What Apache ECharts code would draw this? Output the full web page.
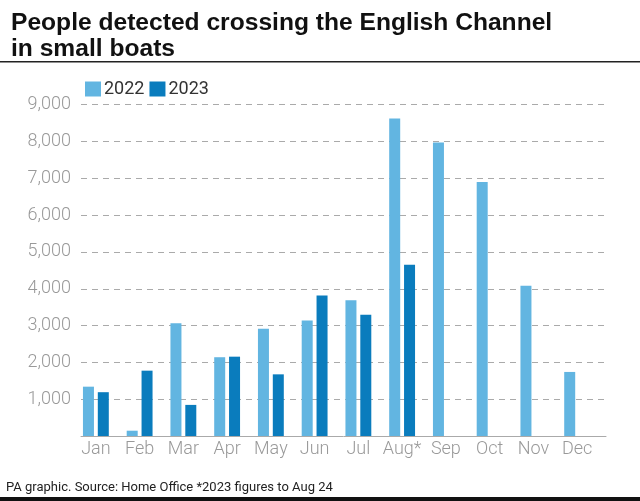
<!DOCTYPE html>
<html><head><meta charset="utf-8">
<script src="https://cdn.jsdelivr.net/npm/echarts@6/dist/echarts.min.js"></script>
<style>html,body{margin:0;padding:0;background:#fff}#c{width:640px;height:501px}</style>
</head><body><div id="c"></div>
<script>
const months = ['Jan','Feb','Mar','Apr','May','Jun','Jul','Aug*','Sep','Oct','Nov','Dec'];
const values2022 = [1340, 144, 3060, 2140, 2915, 3140, 3685, 8625, 7970, 6900, 4080, 1740];
const values2023 = [1190, 1775, 845, 2155, 1675, 3820, 3295, 4650, null, null, null, null];
const yTicks = [0, 1000, 2000, 3000, 4000, 5000, 6000, 7000, 8000, 9000];

const light = '#62b5e1', dark = '#0a7cbd';
const font = 'Roboto';
const chart = echarts.init(document.getElementById('c'), null, {renderer:'canvas'});
const gTop = 104.7, gBottom = 65;
chart.setOption({
  animation:false,
  title:{text:'People detected crossing the English Channel\nin small boats', left:6, top:5,
    textStyle:{fontFamily:'Liberation Sans', fontWeight:'bold', fontSize:24.6, color:'#111', lineHeight:26}},
  legend:{left:80, top:75, itemWidth:16, itemHeight:15, itemGap:5, icon:'rect',
    textStyle:{fontFamily:font, fontSize:18, color:'#333', padding:[0,0,0,-2]}},
  grid:[{left:81, right:34, top:gTop, bottom:gBottom},{left:74, width:525, top:gTop, bottom:gBottom}],
  xAxis:[
    {type:'category', gridIndex:0, data:months, axisLine:{show:true,lineStyle:{color:'#aaa',width:1}}, axisTick:{show:false}, axisLabel:{show:false}},
    {type:'category', gridIndex:1, data:months, axisLine:{show:false}, axisTick:{show:false},
      axisLabel:{fontFamily:font, fontSize:18, color:'#999', fontWeight:300, margin:4, interval:0}}
  ],
  yAxis:[
    {type:'value', gridIndex:0, min:yTicks[0], max:yTicks[yTicks.length-1], interval:1000,
      axisLine:{show:false}, axisTick:{show:false},
      axisLabel:{fontFamily:font, fontSize:18, color:'#999', fontWeight:300, margin:10,
        formatter:v=> v===0?'':v.toLocaleString('en-GB')},
      splitLine:{show:true, lineStyle:{color:'#aaa', type:[6,5], width:1}}},
    {type:'value', gridIndex:1, min:yTicks[0], max:yTicks[yTicks.length-1], interval:1000, show:false, splitLine:{show:false}}
  ],
  series:[
    {name:'2022', type:'bar', xAxisIndex:1, yAxisIndex:1, data:values2022, barWidth:11, barGap:'35%', itemStyle:{color:light}},
    {name:'2023', type:'bar', xAxisIndex:1, yAxisIndex:1, data:values2023, barWidth:11, barGap:'35%', itemStyle:{color:dark}}
  ],
  graphic:[
    {type:'rect', shape:{x:0,y:61,width:640,height:1.5}, style:{fill:'#222'}},
    {type:'text', left:6, top:481, style:{text:'PA graphic. Source: Home Office *2023 figures to Aug 24', fontFamily:font, fontSize:13, fill:'#222'}},
    {type:'rect', shape:{x:0,y:497,width:640,height:4}, style:{fill:'#111'}}
  ]
});
</script></body></html>
